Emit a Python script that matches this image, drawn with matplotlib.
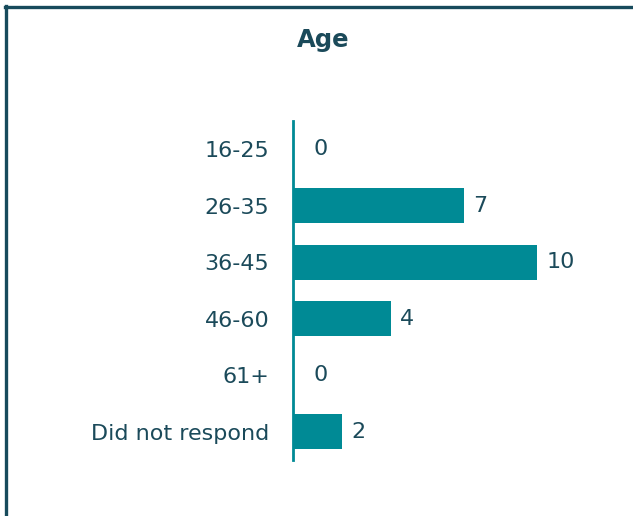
import matplotlib.pyplot as plt
from matplotlib.lines import Line2D

# データ
categories = ['16-25', '26-35', '36-45', '46-60', '61+', 'Did not respond']
counts = [0, 7, 10, 4, 0, 2]

bar_color = '#008a95'
text_color = '#1b4a5a'
frame_color = '#174b5c'

plt.rcParams['font.family'] = ['DejaVu Sans']

fig = plt.figure(figsize=(6.33, 5.16), dpi=100)
ax = fig.add_axes([0.4629, 0.1085, 0.4625, 0.657])

y = list(range(len(categories)))
ax.barh(y, counts, height=0.62, color=bar_color)
ax.set_ylim(len(categories) - 0.5, -0.5)
ax.set_xlim(0, 12)

ax.set_yticks(y)
ax.set_yticklabels(categories, fontsize=16, color=text_color)
ax.tick_params(axis='y', length=0, pad=17)
ax.set_xticks([])

for s in ['top', 'right', 'bottom']:
    ax.spines[s].set_visible(False)
ax.spines['left'].set_color(bar_color)
ax.spines['left'].set_linewidth(2)

# 数値ラベル
for yi, v in zip(y, counts):
    off = 15 if v == 0 else 7
    ax.annotate(str(v), (v, yi), xytext=(off, 0), textcoords='offset points',
                va='center', ha='left', fontsize=16, color=text_color)

fig.text(0.51, 0.922, 'Age', ha='center', va='center', fontsize=17.5,
         fontweight='bold', color=text_color)

# 枠線
W, H = 633, 516
fig.add_artist(Line2D([5 / W, 1], [1 - 7 / H, 1 - 7 / H], color=frame_color,
                      lw=2.4, transform=fig.transFigure))
fig.add_artist(Line2D([6 / W, 6 / W], [1 - 5.5 / H, 0], color=frame_color,
                      lw=2.4, transform=fig.transFigure))

fig.savefig('out.png', dpi=100)
